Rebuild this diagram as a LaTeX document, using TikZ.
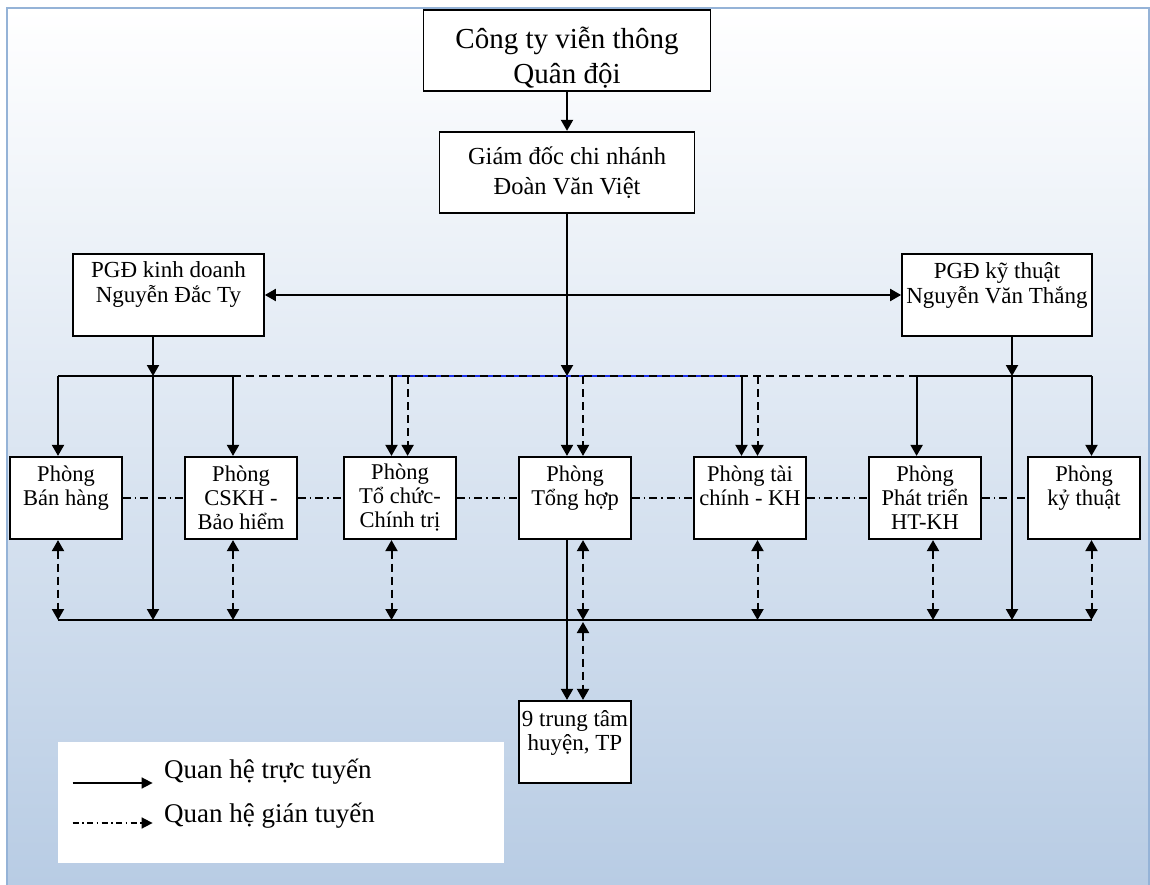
\documentclass[tikz,border=0pt]{standalone}
\usepackage{fontspec}
\setmainfont{Liberation Serif}
\usetikzlibrary{arrows.meta,calc}
\definecolor{frameblue}{RGB}{149,179,215}
\definecolor{bgbottom}{RGB}{184,204,228}
\definecolor{busblue}{RGB}{30,50,235}
\begin{document}
\begin{tikzpicture}[x=1pt,y=-1pt,
  box/.style={draw=black, line width=1.7pt, fill=white, align=center, inner sep=1pt},
  topbox/.style={box, minimum width=287pt, minimum height=81pt, font=\fontsize{29}{35}\selectfont},
  gdbox/.style={box, minimum width=255pt, minimum height=81pt, font=\fontsize{24.5}{30}\selectfont},
  pgdbox/.style={box, minimum width=190pt, minimum height=82pt, font=\fontsize{23}{25}\selectfont},
  roombox/.style={box, minimum width=112pt, minimum height=82.5pt, font=\fontsize{22.5}{24}\selectfont},
  conn/.style={line width=2pt},
  solidarr/.style={conn, -{Triangle[length=11pt,width=12pt]}},
  dasharr/.style={conn, dash pattern=on 8pt off 5pt, -{Triangle[length=11pt,width=12pt]}},
  dashboth/.style={conn, dash pattern=on 8pt off 5pt, {Triangle[length=11pt,width=12pt]}-{Triangle[length=11pt,width=12pt]}},
  dashline/.style={conn, dash pattern=on 8pt off 5pt},
  dashdot/.style={line width=1.3pt, dash pattern=on 8pt off 4pt on 1.5pt off 4pt},
  legtext/.style={anchor=base west, inner sep=0pt, font=\fontsize{27}{30}\selectfont}
]
\useasboundingbox (0,0) rectangle (1150,885);
\fill[white] (0,0) rectangle (1150,885);
\shade[top color=white, bottom color=bgbottom] (7,8) rectangle (1149,885);
\draw[frameblue, line width=2.5pt] (7,886) -- (7,8) -- (1149,8) -- (1149,886);

% nodes
\node[topbox] (top) at (567,50.5) {\rule{0pt}{36pt}Công ty viễn thông\\Quân đội};
\node[gdbox] (gd) at (567,172.2) {Giám đốc chi nhánh\\Đoàn Văn Việt};
\node[pgdbox, minimum width=191pt] (pkd) at (168.5,295) {PGĐ kinh doanh\\Nguyễn Đắc Ty\\~};
\node[pgdbox] (pkt) at (997,295) {PGĐ kỹ thuật\\Nguyễn Văn Thắng\\~};

\node[roombox] (ban) at (66,498) {Phòng\\Bán hàng\\~};
\node[roombox] (cskh) at (241,498) {Phòng\\CSKH -\\Bảo hiểm};
\node[roombox] (tc) at (400,498) {Phòng\\Tổ chức-\\Chính trị};
\node[roombox, minimum width=111.5pt] (th) at (575,498) {Phòng\\Tổng hợp\\~};
\node[roombox, minimum width=111.5pt] (tk) at (750,498) {Phòng tài\\chính - KH\\~};
\node[roombox] (pt) at (925,498) {Phòng\\Phát triển\\HT-KH};
\node[roombox] (ky) at (1084,498) {Phòng\\kỷ thuật\\~};

\node[roombox, font=\fontsize{23}{24}\selectfont] (ttm) at (575,742) {9 trung tâm\\huyện, TP\\~};

\node[fill=white, inner sep=0pt, minimum width=446pt, minimum height=121pt, anchor=north west] (legend) at (58,742) {};

% bus coordinates
\coordinate (ub-ban) at (58,376);
\coordinate (ub-kd) at (153,376);
\coordinate (ub-cskh) at (233,376);
\coordinate (ub-tc) at (391.5,376);
\coordinate (ub-tcd) at (407.6,376);
\coordinate (ub-th) at (567,376);
\coordinate (ub-thd) at (583,376);
\coordinate (ub-tk) at (741.5,376);
\coordinate (ub-tkd) at (757.5,376);
\coordinate (ub-pt) at (916.6,376);
\coordinate (ub-kt) at (1012,376);
\coordinate (ub-ky) at (1091.5,376);

\coordinate (lb-ban) at (58,620);
\coordinate (lb-kd) at (153,620);
\coordinate (lb-cskh) at (233,620);
\coordinate (lb-tc) at (391.5,620);
\coordinate (lb-th) at (567,620);
\coordinate (lb-thd) at (583,620);
\coordinate (lb-tk) at (757.5,620);
\coordinate (lb-pt) at (933,620);
\coordinate (lb-kt) at (1012,620);
\coordinate (lb-ky) at (1091.5,620);
\coordinate (lb-thd2) at (583,622);

% dash-dot links between rooms
\draw[dashdot] (ban) -- (cskh);
\draw[dashdot] (cskh) -- (tc);
\draw[dashdot] (tc) -- (th);
\draw[dashdot] (th) -- (tk);
\draw[dashdot] (tk) -- (pt);
\draw[dashdot] (pt) -- (ky);

% top
\draw[solidarr] (top) -- (gd);
\draw[solidarr] (gd.south) -- (ub-th);
\draw[solidarr] (ub-th) -- (ub-th |- th.north);
\draw[conn, {Triangle[length=11pt,width=12pt]}-{Triangle[length=11pt,width=12pt]}] (pkd.east) -- (pkt.west);

% PGD kinh doanh
\draw[solidarr] (ub-kd |- pkd.south) -- (ub-kd);
\draw[solidarr] (ub-kd) -- (lb-kd);
\draw[conn] (ub-ban) -- (ub-cskh);
\draw[solidarr] (ub-ban) -- (ub-ban |- ban.north);
\draw[solidarr] (ub-cskh) -- (ub-cskh |- cskh.north);

% PGD ky thuat
\draw[solidarr] (ub-kt |- pkt.south) -- (ub-kt);
\draw[solidarr] (ub-kt) -- (lb-kt);
\draw[conn] (ub-pt) -- (ub-ky);
\draw[solidarr] (ub-pt) -- (ub-pt |- pt.north);
\draw[solidarr] (ub-ky) -- (ub-ky |- ky.north);

% centre branch
\draw[conn, busblue] (ub-tc) -- (ub-tk);
\draw[solidarr] (ub-tc) -- (ub-tc |- tc.north);
\draw[solidarr] (ub-tk) -- (ub-tk |- tk.north);

% indirect (dashed) from upper bus
\draw[dashline] (ub-cskh) -- (ub-pt);
\draw[dasharr] (ub-tcd) -- (ub-tcd |- tc.north);
\draw[dasharr] (ub-thd) -- (ub-thd |- th.north);
\draw[dasharr] (ub-tkd) -- (ub-tkd |- tk.north);

% lower bus
\draw[line width=1.6pt] (lb-ban) -- (lb-ky);
\draw[dashboth] (lb-ban |- ban.south) -- (lb-ban);
\draw[dashboth] (lb-cskh |- cskh.south) -- (lb-cskh);
\draw[dashboth] (lb-tc |- tc.south) -- (lb-tc);
\draw[dashboth] (lb-thd |- th.south) -- (lb-thd);
\draw[dashboth] (lb-tk |- tk.south) -- (lb-tk);
\draw[dashboth] (lb-pt |- pt.south) -- (lb-pt);
\draw[dashboth] (lb-ky |- ky.south) -- (lb-ky);

% to the 9 centres
\draw[solidarr] (lb-th |- th.south) -- (lb-th |- ttm.north);
\draw[dashboth] (lb-thd2) -- (lb-thd2 |- ttm.north);

% legend
\coordinate (l1) at ($(legend.north west)+(14.6,41)$);
\coordinate (l2) at ($(legend.north west)+(14.6,81)$);
\draw[line width=1.7pt, -{Triangle[length=11pt,width=11pt]}] (l1) -- ++(80,0);
\draw[line width=1.7pt, dash pattern=on 6pt off 3.5pt on 1.5pt off 3.5pt, -{Triangle[length=11pt,width=11pt]}] (l2) -- ++(80,0);
\node[legtext] (lt1) at ($(legend.north west)+(106,36)$) {Quan hệ trực tuyến};
\node[legtext] (lt2) at ($(legend.north west)+(106,80.7)$) {Quan hệ gián tuyến};
\end{tikzpicture}
\end{document}
